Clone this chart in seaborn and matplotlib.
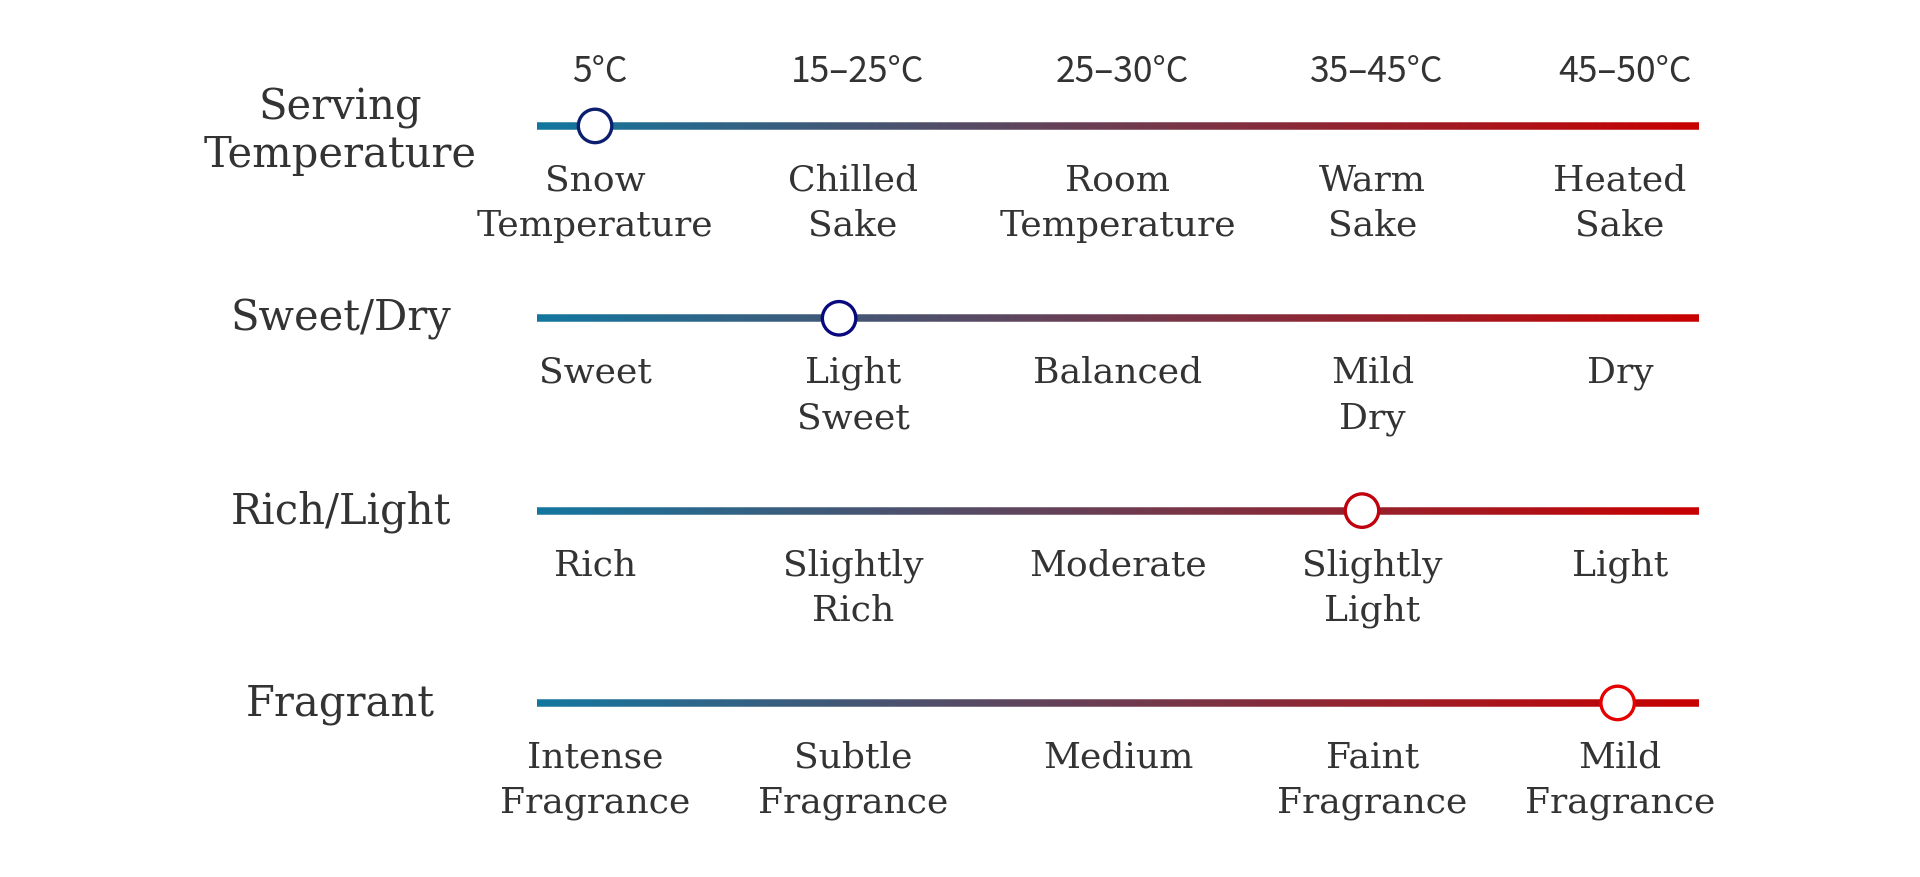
import numpy as np
import matplotlib
matplotlib.use("Agg")
import matplotlib.pyplot as plt
import seaborn as sns
from matplotlib.collections import LineCollection

# data
row_names = ["Serving\nTemperature", "Sweet/Dry", "Rich/Light", "Fragrant"]
temp_ranges = ["5°C", "15–25°C", "25–30°C", "35–45°C", "45–50°C"]
temp_levels = ["Snow\nTemperature", "Chilled\nSake", "Room\nTemperature", "Warm\nSake", "Heated\nSake"]
sweet_levels = ["Sweet", "Light\nSweet", "Balanced", "Mild\nDry", "Dry"]
rich_levels = ["Rich", "Slightly\nRich", "Moderate", "Slightly\nLight", "Light"]
fragrance_levels = ["Intense\nFragrance", "Subtle\nFragrance", "Medium", "Faint\nFragrance", "Mild\nFragrance"]
scores = [5, 26, 71, 93]  # marker position on each 0-100 scale

level_rows = [temp_levels, sweet_levels, rich_levels, fragrance_levels]
slot_x = [5, 27.2, 50, 71.9, 93.2]   # where the 5 level labels sit along the bar
marker_edges = ["#0b1f6e", "#08087f", "#c0000c", "#e60000"]

sns.set_theme(style="white")
plt.rcParams["font.family"] = ["DejaVu Serif"]

fig = plt.figure(figsize=(19.2, 8.78), dpi=100)
ax = fig.add_axes([0, 0, 1, 1])
ax.set_xlim(-46.21, 119.02)
ax.set_ylim(3.905, -0.660)
ax.axis("off")

txt = "#333333"
n_seg = 400
grad = sns.blend_palette(["#13769f", "#c80000"], n_colors=n_seg)
xs = np.linspace(0, 100, n_seg + 1)

for r, (name, levels) in enumerate(zip(row_names, level_rows)):
    segs = [[(xs[i], r), (xs[i + 1], r)] for i in range(n_seg)]
    lc = LineCollection(segs, colors=grad, linewidths=5.4, capstyle="butt", zorder=1)
    ax.add_collection(lc)

    dy = 0.025 if "\n" in name else 0.0
    ax.text(-16.9, r + dy, name, ha="center", va="center", fontsize=30, color=txt,
            linespacing=1.15)
    for x, lab in zip(slot_x, levels):
        ax.text(x, r + 0.19, lab, ha="center", va="top", fontsize=26, color=txt,
                linespacing=1.42, multialignment="center")

for x, t in zip(slot_x, temp_ranges):
    ax.text(x + 0.4, -0.236, t, ha="center", va="baseline", fontsize=25.5, color=txt,
            family=["Noto Sans CJK SC", "DejaVu Sans"])

sns.scatterplot(x=scores, y=list(range(len(scores))),
                color="white", edgecolor=marker_edges, linewidth=2.4, s=580,
                zorder=3, ax=ax, legend=False)

fig.savefig("out.png", dpi=100, facecolor="white")
